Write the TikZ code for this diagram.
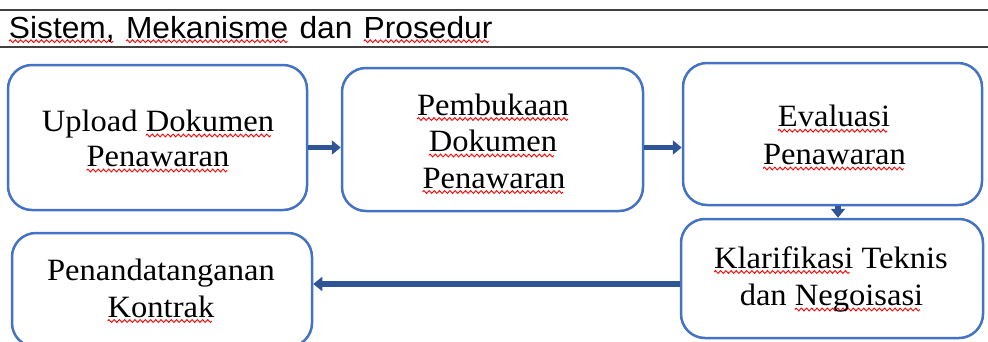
\documentclass[tikz,border=0pt]{standalone}
\usepackage{fontspec}
\setmainfont{Liberation Serif}[FakeStretch=1.05]
\newfontfamily\titlefont{Liberation Sans}[FakeStretch=1.04]
\usetikzlibrary{arrows.meta}
\definecolor{boxblue}{HTML}{4472C4}
\definecolor{arrblue}{HTML}{2F5597}
\definecolor{rulegray}{HTML}{404040}
\newsavebox\wavebox
\newsavebox\wordbox
\newlength\wavedrop
\setlength\wavedrop{5pt}
\newcommand\sqw[1]{\sbox\wordbox{#1}\rlap{\lower\wavedrop\hbox to\wd\wordbox{\leaders\copy\wavebox\hfill}}\usebox\wordbox}
\tikzset{
  stepbox/.style={draw=boxblue, line width=2.5pt, rounded corners=24pt, inner sep=0pt},
  txt/.style={anchor=base, inner sep=0pt, font=\fontsize{31}{36}\selectfont},
  flowarr/.style={draw=arrblue, line width=5.5pt, -{Triangle[length=9pt,width=14pt]}},
  topline/.style={draw=rulegray, line width=2pt}
}
\begin{document}
\begin{tikzpicture}[x=1pt,y=-1pt]
\pgfinterruptpicture
\global\setbox\wavebox=\hbox{\begin{pgfpicture}
  \pgfsetlinewidth{0.9pt}\pgfsetstrokecolor{red}
  \pgfpathmoveto{\pgfpoint{0pt}{0pt}}
  \pgfpathsine{\pgfpoint{1.3pt}{1.4pt}}
  \pgfpathcosine{\pgfpoint{1.3pt}{-1.4pt}}
  \pgfpathsine{\pgfpoint{1.3pt}{-1.4pt}}
  \pgfpathcosine{\pgfpoint{1.3pt}{1.4pt}}
  \pgfusepath{stroke}
  \pgfresetboundingbox
  \pgfpathrectangle{\pgfpoint{0pt}{-1pt}}{\pgfpoint{5.2pt}{2pt}}
  \pgfusepath{use as bounding box}
\end{pgfpicture}}
\endpgfinterruptpicture
\useasboundingbox (0,0) rectangle (988,341);
\clip (0,0) rectangle (988,341);
\draw[topline] (0,10) -- (988,10);
\draw[topline] (0,47) -- (988,47);
\node[anchor=base west, inner sep=0pt, font=\titlefont\fontsize{30.5}{36}\selectfont\setlength\wavedrop{3.5pt}] (title) at (8.5,38.7)
  {\sqw{Sistem,}\hspace{2.5pt} \sqw{Mekanisme}\hspace{2.5pt} dan\hspace{2.5pt} \sqw{Prosedur}};
% boxes
\node[stepbox, minimum width=299pt, minimum height=145pt] (b1) at (157.5,137.5) {};
\node[stepbox, minimum width=301pt, minimum height=143pt] (b2) at (492.5,139.5) {};
\node[stepbox, minimum width=299pt, minimum height=142pt] (b3) at (832.5,134) {};
\node[stepbox, minimum width=302pt, minimum height=119pt] (b4) at (832,278.5) {};
\node[stepbox, minimum width=300pt, minimum height=114pt] (b5) at (162,290) {};
% texts
\node[txt] (t1a) at (158,131.5) {Upload \sqw{Dokumen}};
\node[txt] (t1b) at (158,166.5) {\sqw{Penawaran}};
\node[txt] (t2a) at (493,115) {\sqw{Pembukaan}};
\node[txt] (t2b) at (493,151.5) {\sqw{Dokumen}};
\node[txt] (t2c) at (494,188) {\sqw{Penawaran}};
\node[txt] (t3a) at (834,126.7) {\sqw{Evaluasi}};
\node[txt] (t3b) at (834.5,164.5) {\sqw{Penawaran}};
\node[txt] (t4a) at (831,268) {\sqw{Klarifikasi} Teknis};
\node[txt] (t4b) at (831.5,305.5) {dan \sqw{Negoisasi}};
\node[txt] (t5a) at (161,280.5) {Penandatanganan};
\node[txt] (t5b) at (161,317) {\sqw{Kontrak}};
% connectors
\coordinate (r1) at (0,147.5);
\coordinate (r2) at (0,284);
\coordinate (c3) at (838,0);
\draw[flowarr] (b1.east |- r1) -- (b2.west |- r1);
\draw[flowarr] (b2.east |- r1) -- (b3.west |- r1);
\draw[flowarr] (b3.south -| c3) -- (b4.north -| c3);
\draw[flowarr, line width=6.5pt] (b4.west |- r2) -- (b5.east |- r2);
\end{tikzpicture}
\end{document}
